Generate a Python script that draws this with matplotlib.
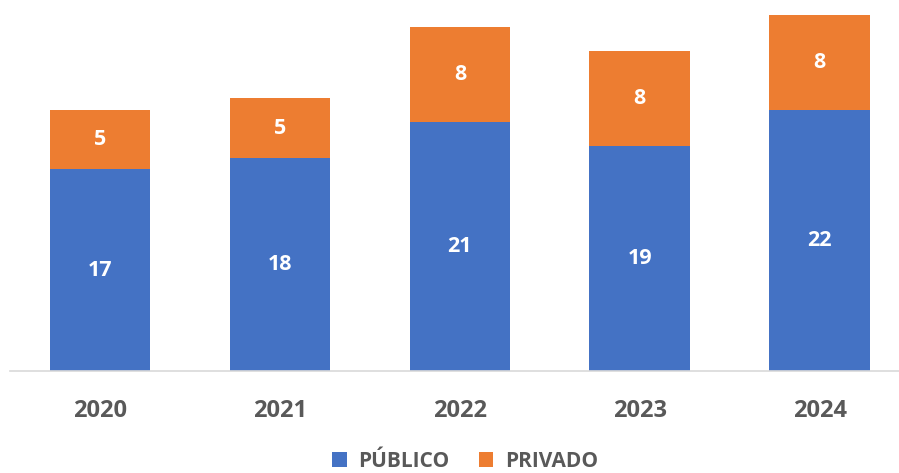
import matplotlib.pyplot as plt
import numpy as np

years = ["2020", "2021", "2022", "2023", "2024"]
publico = [17, 18, 21, 19, 22]
privado = [5, 5, 8, 8, 8]

blue = "#4472C4"
orange = "#ED7D31"
grey = "#595959"

plt.rcParams['font.family'] = ['Open Sans', 'DejaVu Sans']

fig = plt.figure(figsize=(8.99, 4.73), dpi=100)
ax = fig.add_axes([10 / 899, 102 / 473, 889 / 899, 371 / 473])

x = np.arange(len(years))
b1 = ax.bar(x, publico, width=0.56, color=blue, label="PÚBLICO")
b2 = ax.bar(x, privado, width=0.56, bottom=publico, color=orange, label="PRIVADO")

ax.bar_label(b1, labels=[str(v) for v in publico], label_type='center',
             color='white', fontsize=15.5, fontweight='bold')
ax.bar_label(b2, labels=[str(v) for v in privado], label_type='center',
             color='white', fontsize=15.5, fontweight='bold')

ax.set_xlim(-0.5, 4.44)
ax.set_ylim(0, 31.3)
ax.set_xticks(x)
ax.set_xticklabels(years, fontsize=17, fontweight='bold', color=grey)
ax.tick_params(axis='x', length=0, pad=20)
ax.set_yticks([])
for s in ['top', 'right', 'left']:
    ax.spines[s].set_visible(False)
ax.spines['bottom'].set_color('#D9D9D9')
ax.spines['bottom'].set_linewidth(1.2)

leg = fig.legend(handles=[b1, b2], loc='center', bbox_to_anchor=(465 / 899, 1 - 461 / 473),
                 ncol=2, frameon=False, handlelength=0.7, handleheight=0.7,
                 columnspacing=1.4, handletextpad=0.55,
                 prop={'weight': 'bold', 'size': 15})
for t in leg.get_texts():
    t.set_color(grey)

fig.savefig("out.png", dpi=100)
